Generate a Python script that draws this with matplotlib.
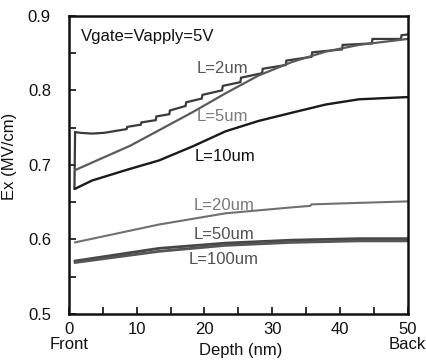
import matplotlib
matplotlib.use("Agg")
import matplotlib.pyplot as plt
from matplotlib.ticker import MultipleLocator

plt.rcParams['font.family'] = ['Liberation Sans', 'DejaVu Sans']

# ---- data ----
x_2um = [0.8, 0.9, 1.7, 3.4, 5.2, 8.5, 8.6, 10.6, 10.7, 12.8, 12.9, 14.8, 14.9, 17.2, 17.3,
         19.6, 19.7, 22.6, 22.7, 25.3, 25.4, 28.5, 28.6, 32.0, 32.1, 35.8, 35.9,
         40.3, 40.4, 44.7, 44.8, 49.0, 49.1, 50.0]
y_2um = [0.668, 0.744, 0.743, 0.742, 0.743, 0.748, 0.751, 0.754, 0.757, 0.760, 0.765, 0.768, 0.773,
         0.779, 0.784, 0.789, 0.794, 0.800, 0.806, 0.811, 0.817, 0.823, 0.829,
         0.834, 0.840, 0.845, 0.851, 0.855, 0.861, 0.863, 0.869, 0.869, 0.874, 0.875]

x_5um = [0.9, 9.1, 18.3, 23.1, 28.0, 32.9, 37.9, 42.8, 50.0]
y_5um = [0.693, 0.726, 0.771, 0.796, 0.820, 0.838, 0.852, 0.861, 0.869]

x_10um = [0.9, 3.4, 8.4, 13.3, 18.3, 23.1, 28.0, 32.9, 37.9, 42.8, 50.0]
y_10um = [0.668, 0.679, 0.693, 0.706, 0.725, 0.745, 0.759, 0.770, 0.781, 0.788, 0.791]

x_20um = [0.9, 13.3, 23.1, 32.9, 35.6, 35.8, 42.8, 50.0]
y_20um = [0.596, 0.620, 0.635, 0.643, 0.645, 0.647, 0.649, 0.651]

x_50um = [0.9, 13.3, 23.1, 32.9, 42.8, 50.0]
y_50um = [0.571, 0.588, 0.595, 0.599, 0.601, 0.601]

x_100um = [0.9, 13.3, 23.1, 32.9, 42.8, 50.0]
y_100um = [0.569, 0.584, 0.592, 0.596, 0.598, 0.598]

labels = ["L=2um", "L=5um", "L=10um", "L=20um", "L=50um", "L=100um"]
label_x = [22.7, 22.7, 23.0, 22.9, 22.9, 22.9]
label_y = [0.830, 0.765, 0.711, 0.645, 0.607, 0.573]

xticks = [0, 10, 20, 30, 40, 50]
xticklabels = ["0\nFront", "10", "20", "30", "40", "50\nBack"]
yticks = [0.5, 0.6, 0.7, 0.8, 0.9]
yticklabels = ["0.5", "0.6", "0.7", "0.8", "0.9"]

# ---- figure ----
fig = plt.figure(figsize=(4.26, 3.6), dpi=100)
ax = fig.add_axes([0.162, 0.128, 0.795, 0.828])

line_colors = ["#3a3a3a", "#5a5a5a", "#1a1a1a", "#707070", "#474747", "#555555"]
line_widths = [1.6, 1.6, 1.7, 1.5, 2.0, 2.0]
series = [(x_2um, y_2um), (x_5um, y_5um), (x_10um, y_10um),
          (x_20um, y_20um), (x_50um, y_50um), (x_100um, y_100um)]
for (xs, ys), c, lw in zip(series, line_colors, line_widths):
    ax.plot(xs, ys, color=c, lw=lw, solid_joinstyle='miter')

label_colors = ["#555555", "#7a7a7a", "#111111", "#777777", "#505050", "#505050"]
for t, lx, ly, c in zip(labels, label_x, label_y, label_colors):
    ax.text(lx, ly, t, color=c, fontsize=12, ha='center', va='center')

ax.text(0.035, 0.93, "Vgate=Vapply=5V", transform=ax.transAxes, fontsize=12,
        ha='left', va='center', color='#111111')

ax.set_xlim(0, 50)
ax.set_ylim(0.5, 0.9)
ax.set_xticks(xticks)
ax.set_xticklabels(xticklabels, linespacing=0.95)
ax.xaxis.set_minor_locator(MultipleLocator(5))
ax.set_yticks(yticks)
ax.set_yticklabels(yticklabels)
ax.yaxis.set_minor_locator(MultipleLocator(0.05))
ax.tick_params(axis='both', which='both', direction='in', length=5, width=1.2,
               labelsize=12, colors='#111111')
ax.tick_params(axis='x', which='major', pad=6)
ax.tick_params(axis='y', which='major', pad=13)
ax.tick_params(top=False, right=False)
for s in ax.spines.values():
    s.set_linewidth(1.8)
    s.set_color('#111111')

ax.set_ylabel("Ex (MV/cm)", fontsize=12, color='#111111')
ax.yaxis.set_label_coords(-0.155, 0.53)
ax.text(25.4, -0.122, "Depth (nm)", transform=ax.get_xaxis_transform(),
        fontsize=12, ha='center', va='center', color='#111111')

fig.savefig("out.png", dpi=100)
